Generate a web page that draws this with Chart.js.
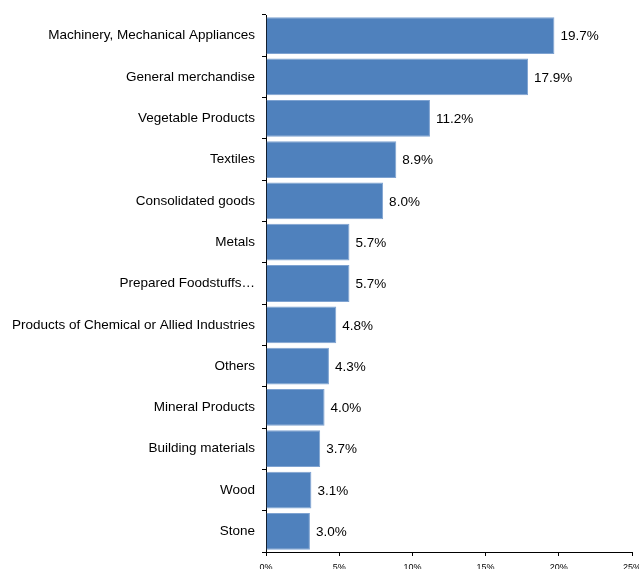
<!DOCTYPE html>
<html>
<head>
<meta charset="utf-8">
<script src="https://cdn.jsdelivr.net/npm/chart.js@4"></script>
<style>
  html, body { margin: 0; padding: 0; background: #fff; overflow: hidden; }
  #wrap { width: 639px; height: 585px; }
</style>
</head>
<body>
<div id="wrap"><canvas id="chart" width="639" height="585"></canvas></div>
<script>
const categories = [
    'Machinery, Mechanical Appliances',
    'General merchandise',
    'Vegetable Products',
    'Textiles',
    'Consolidated goods',
    'Metals',
    'Prepared Foodstuffs…',
    'Products of Chemical or Allied Industries',
    'Others',
    'Mineral Products',
    'Building materials',
    'Wood',
    'Stone'
];
const shares = [19.7, 17.9, 11.2, 8.9, 8.0, 5.7, 5.7, 4.8, 4.3, 4.0, 3.7, 3.1, 3.0];
const axisTicks = [0, 5, 10, 15, 20, 25];

const FONT = 'Liberation Sans, Arial, sans-serif';

// writes the percentage just past the end of each bar
const valueLabels = {
    id: 'valueLabels',
    afterDatasetsDraw(chart) {
        const ctx = chart.ctx;
        const meta = chart.getDatasetMeta(0);
        ctx.save();
        ctx.font = '13.5px ' + FONT;
        ctx.fillStyle = '#000';
        ctx.textAlign = 'left';
        ctx.textBaseline = 'middle';
        meta.data.forEach((bar, i) => {
            ctx.fillText(shares[i].toFixed(1) + '%', bar.x + 6, bar.y + 1);
        });
        ctx.restore();
    }
};

new Chart(document.getElementById('chart'), {
    type: 'bar',
    data: {
        labels: categories,
        datasets: [{
            data: shares,
            backgroundColor: '#4F81BD',
            borderColor: '#7FA3D1',
            borderWidth: 1,
            barPercentage: 0.89,
            categoryPercentage: 1
        }]
    },
    options: {
        indexAxis: 'y',
        responsive: false,
        animation: false,
        layout: { padding: { top: 15, right: 7, left: 0, bottom: 0 } },
        plugins: {
            legend: { display: false },
            tooltip: { enabled: false }
        },
        scales: {
            x: {
                min: 0,
                max: 25,
                afterBuildTicks: (scale) => {
                    scale.ticks = axisTicks.map(v => ({ value: v }));
                },
                afterFit: (scale) => {
                    scale.height = 33;
                    scale.paddingLeft = 0;
                    scale.paddingRight = 0;
                },
                border: { display: true, color: '#000', width: 1 },
                grid: {
                    drawOnChartArea: false,
                    drawTicks: true,
                    tickLength: 4,
                    tickColor: '#000'
                },
                ticks: {
                    font: { family: FONT, size: 9 },
                    color: '#000',
                    padding: 6,
                    maxRotation: 0,
                    callback: (v) => v + '%'
                }
            },
            y: {
                afterFit: (scale) => {
                    scale.width = 266;
                    scale.paddingTop = 0;
                    scale.paddingBottom = 0;
                },
                border: { display: true, color: '#000', width: 1 },
                grid: {
                    offset: true,
                    drawOnChartArea: false,
                    drawTicks: true,
                    tickLength: 4,
                    tickColor: '#000'
                },
                ticks: {
                    font: { family: FONT, size: 13.5 },
                    color: '#000',
                    padding: 7,
                    autoSkip: false
                }
            }
        }
    },
    plugins: [valueLabels]
});
</script>
</body>
</html>
